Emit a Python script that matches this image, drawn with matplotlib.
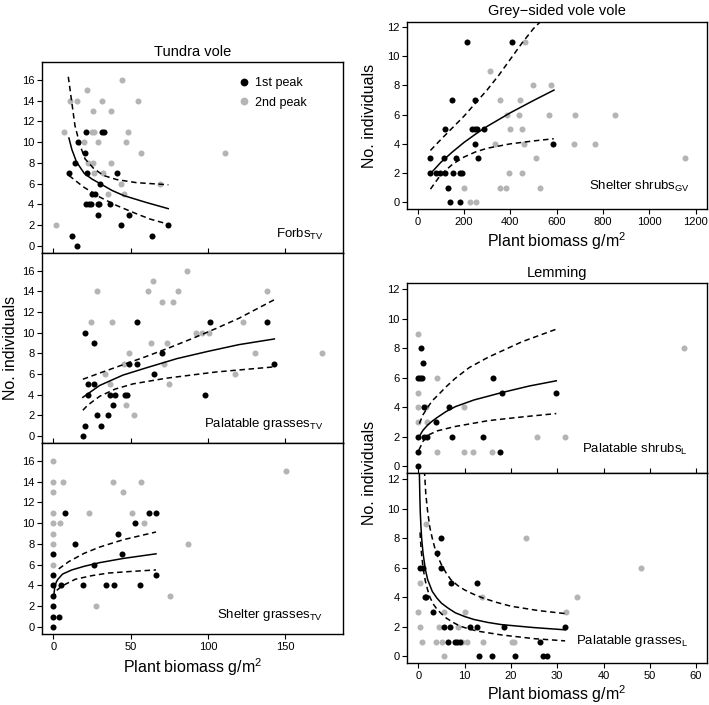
import matplotlib
matplotlib.use('Agg')
import matplotlib.pyplot as plt
from matplotlib.lines import Line2D

plt.rcParams['font.family'] = ['Liberation Sans', 'DejaVu Sans']
plt.rcParams['mathtext.fontset'] = 'custom'
plt.rcParams['mathtext.rm'] = 'Liberation Sans'
plt.rcParams['mathtext.it'] = 'Liberation Sans:italic'
plt.rcParams['mathtext.bf'] = 'Liberation Sans:bold'

# ---------------- Tundra vole: Forbs ----------------
forbs_x1 = [10.2, 11.9, 14.0, 15.5, 16.2, 20.5, 21.1, 21.8, 21.1, 23.3, 24.2, 24.8, 27.0, 28.7, 29.8, 28.7, 30.4, 31.3, 32.8, 36.6, 41.2, 43.8, 48.9, 63.8, 74.4]
forbs_y1 = [7, 1, 8, 0, 10, 9, 11, 7, 4, 4, 4, 5, 5, 4, 4, 3, 6, 11, 11, 4, 7, 2, 3, 1, 2]
forbs_x2 = [44.2, 22.0, 10.8, 15.5, 31.3, 54.9, 25.4, 37.3, 6.9, 24.8, 26.0, 48.3, 20.1, 29.1, 47.2, 56.5, 110.7, 22.2, 25.4, 37.5, 26.5, 31.9, 43.8, 69.3, 35.5, 45.6, 1.5]
forbs_y2 = [16, 15, 14, 14, 14, 14, 13, 13, 11, 11, 11, 11, 10, 10, 10, 9, 9, 8, 8, 8, 7, 7, 6, 6, 5, 5, 2]
forbs_fit_x = [10.1, 12, 15, 20, 25, 30.4, 38, 45.7, 60, 74.3]
forbs_fit_y = [10.4, 9.3, 8.1, 7.0, 6.45, 6.0, 5.35, 4.85, 4.2, 3.6]
forbs_hi_x = [9.7, 11.9, 14.0, 17.3, 20.5, 25.9, 32.3, 41.0, 53.9, 74.4]
forbs_hi_y = [16.3, 13.9, 11.6, 9.7, 8.4, 7.5, 6.8, 6.4, 6.1, 5.9]
forbs_lo_x = [10.1, 19.4, 30.2, 41.0, 53.9, 62.5, 74.4]
forbs_lo_y = [6.8, 5.7, 4.7, 3.9, 3.1, 2.6, 2.1]

# ---------------- Tundra vole: Palatable grasses ----------------
pgtv_x1 = [19.5, 20.6, 20.8, 22.3, 22.3, 26.0, 26.2, 28.3, 31.1, 35.2, 36.9, 39.9, 38.6, 46.6, 47.4, 48.7, 53.9, 54.1, 64.8, 70.6, 97.9, 101.5, 138.2, 142.5]
pgtv_y1 = [0, 1, 10, 4, 5, 5, 9, 2, 1, 2, 4, 4, 3, 4, 4, 7, 7, 11, 6, 8, 4, 11, 11, 7]
pgtv_x2 = [24.2, 28.5, 33.3, 36.9, 38.2, 45.9, 47.2, 48.9, 52.1, 61.4, 63.1, 64.2, 70.6, 71.7, 73.4, 74.7, 77.3, 80.9, 86.5, 92.1, 96.1, 100.6, 117.2, 122.5, 130.3, 138.2, 173.8]
pgtv_y2 = [11, 14, 6, 5, 11, 7, 3, 8, 2, 14, 9, 15, 13, 7, 9, 5, 13, 14, 16, 10, 10, 10, 6, 11, 8, 14, 8]
pgtv_fit_x = [19.1, 30, 45, 60, 80, 100, 120, 142.9]
pgtv_fit_y = [3.75, 4.9, 5.9, 6.6, 7.5, 8.2, 8.85, 9.4]
pgtv_hi_x = [19.1, 30, 45, 60, 75, 90, 105, 120, 142.9]
pgtv_hi_y = [5.5, 6.1, 6.9, 7.7, 8.55, 9.45, 10.4, 11.4, 13.2]
pgtv_lo_x = [19.1, 22, 25, 30, 40, 51.5, 73, 105, 142.9]
pgtv_lo_y = [2.5, 2.95, 3.3, 3.85, 4.55, 5.05, 5.6, 6.2, 6.7]

# ---------------- Tundra vole: Shelter grasses ----------------
sgtv_x1 = [0, 0, 3.5, 0, 0, 0, 5.2, 0, 0, 7.6, 14.2, 19.0, 26.5, 34.3, 39.5, 41.8, 44.4, 53.0, 55.8, 62.0, 66.4, 66.4]
sgtv_y1 = [0, 1, 1, 2, 3, 4, 4, 5, 7, 11, 8, 4, 6, 4, 4, 9, 7, 10, 4, 11, 11, 5]
sgtv_x2 = [0, 0, 6.2, 0, 0, 0, 4.1, 0, 0, 0, 27.7, 23.2, 38.6, 45.3, 50.6, 56.7, 58.8, 75.3, 87.3, 150.4]
sgtv_y2 = [16, 14, 14, 13, 11, 10, 10, 9, 8, 6, 2, 11, 14, 13, 11, 14, 10, 3, 8, 15]
sgtv_fit_x = [0.3, 1, 2, 3, 6, 12, 20, 30, 45, 66.4]
sgtv_fit_y = [3.0, 3.9, 4.35, 4.6, 5.1, 5.5, 5.85, 6.2, 6.6, 7.05]
sgtv_hi_x = [3.5, 10, 20, 30, 45, 66.4]
sgtv_hi_y = [5.6, 6.3, 7.1, 7.7, 8.4, 9.15]
sgtv_lo_x = [0.3, 2, 5.6, 14.2, 25, 35.7, 50, 66.4]
sgtv_lo_y = [2.7, 3.5, 3.95, 4.6, 4.95, 5.2, 5.35, 5.5]

# ---------------- Grey-sided vole: Shelter shrubs ----------------
gs_x1 = [54.5, 54.5, 80.4, 97.6, 116.3, 114.9, 116.3, 132.1, 141, 184, 149.6, 151, 165.3, 181.2, 192.7, 212.8, 234.3, 245.8, 255.9, 245.8, 245.8, 260.2, 284.6, 405.6, 585.4]
gs_y1 = [3, 2, 2, 2, 2, 3, 5, 1, 0, 0, 7, 2, 3, 2, 2, 11, 5, 5, 5, 4, 7, 3, 5, 11, 4]
gs_x2 = [464.4, 310, 497.6, 575.3, 356.6, 443, 385.4, 435.7, 568, 679, 850, 396.9, 451.5, 333.6, 458, 673, 767, 510.5, 1152.5, 394, 451.5, 201, 353.9, 381, 529.2, 227, 251]
gs_y2 = [11, 9, 8, 8, 7, 7, 6, 6, 6, 6, 6, 5, 5, 4, 4, 4, 4, 3, 3, 2, 2, 1, 1, 1, 1, 0, 0]
gs_fit_x = [63, 100, 150, 200, 250, 300, 400, 500, 588]
gs_fit_y = [2.1, 2.74, 3.45, 4.1, 4.67, 5.2, 6.13, 6.97, 7.68]
gs_hi_x = [55, 100, 150, 200, 250, 300, 350, 400, 450, 500, 545]
gs_hi_y = [3.55, 4.3, 5.1, 5.9, 6.8, 7.7, 8.7, 9.8, 10.9, 11.9, 12.6]
gs_lo_x = [55, 100, 150, 200, 250, 300, 400, 500, 587]
gs_lo_y = [0.9, 1.9, 2.6, 3.1, 3.45, 3.7, 4.0, 4.2, 4.35]

# ---------------- Lemming: Palatable shrubs ----------------
ps_x1 = [0, 0, 0, 1.2, 1.9, 3.8, 7.3, 1.2, 6.6, 0, 0.4, 0.7, 1.1, 0.5, 14.0, 16.1, 18.1, 17.7, 29.8]
ps_y1 = [0, 1, 2, 2, 2, 3, 2, 4, 4, 6, 6, 6, 7, 8, 2, 6, 5, 1, 5]
ps_x2 = [0, 0, 0, 1.7, 0, 1.9, 4.0, 4.1, 9.9, 9.9, 11.9, 15.9, 25.7, 31.7, 57.3]
ps_y2 = [9, 5, 4, 4, 3, 3, 6, 1, 4, 1, 1, 1, 2, 2, 8]
ps_fit_x = [0.2, 0.6, 1, 2, 3, 4, 6, 8, 12, 18, 24, 29.8]
ps_fit_y = [2.0, 2.25, 2.45, 2.8, 3.07, 3.3, 3.72, 4.05, 4.5, 5.0, 5.45, 5.8]
ps_hi_x = [0.2, 1, 2, 3, 4.3, 6, 7.9, 11, 15.1, 22.4, 29.8]
ps_hi_y = [2.9, 3.5, 4.0, 4.45, 4.85, 5.4, 5.95, 6.7, 7.4, 8.45, 9.3]
ps_lo_x = [0.1, 1, 2, 4, 7.9, 15.1, 22.4, 29.8]
ps_lo_y = [1.1, 1.7, 2.1, 2.4, 2.7, 3.1, 3.35, 3.58]

# ---------------- Lemming: Palatable grasses ----------------
pg_x1 = [0.3, 0.9, 1.4, 1.7, 3.2, 4.9, 4.0, 4.9, 7.1, 5.5, 6.9, 6.3, 7.9, 8.4, 8.9, 11.2, 12.6, 12.6, 13.0, 15.9, 18.4, 20.9, 26.2, 27.0, 27.8, 31.7]
pg_y1 = [6, 6, 4, 4, 3, 8, 7, 6, 5, 2, 2, 1, 1, 1, 1, 2, 2, 5, 0, 0, 2, 0, 1, 0, 0, 2]
pg_x2 = [1.7, 0.4, 0, 0.3, 0.7, 3.8, 5.0, 4.5, 5.6, 5.6, 8.5, 9.5, 10.6, 10.1, 13.7, 14.0, 20.3, 20.7, 23.3, 31.8, 34.3, 48.2]
pg_y2 = [9, 5, 3, 2, 1, 1, 1, 2, 3, 0, 2, 1, 1, 3, 4, 1, 1, 1, 8, 3, 4, 6]
pg_fit_x = [0.2, 0.3, 0.4, 0.55, 0.7, 1.0, 1.5, 2, 3, 4, 5, 6.5, 8, 10, 12, 15, 18, 25, 31.7]
pg_fit_y = [12.6, 11.0, 9.8, 8.8, 8.0, 7.0, 5.9, 5.2, 4.4, 3.95, 3.6, 3.25, 2.95, 2.7, 2.5, 2.3, 2.15, 1.95, 1.8]
pg_hi_x = [1.3, 1.6, 2, 2.5, 3, 3.5, 4.2, 5, 6, 7, 8.5, 10, 12, 14, 17, 20, 26, 31.7]
pg_hi_y = [12.6, 11, 9.8, 8.7, 8.0, 7.4, 6.75, 6.2, 5.65, 5.2, 4.8, 4.5, 4.2, 3.95, 3.65, 3.4, 3.1, 2.9]
pg_lo_x = [0.35, 0.6, 1, 1.5, 2, 2.5, 3.2, 4, 5, 6, 7.5, 9, 11, 13, 18, 25, 31.7]
pg_lo_y = [8.4, 7.2, 6.0, 5.1, 4.5, 4.0, 3.55, 3.2, 2.88, 2.6, 2.3, 2.05, 1.85, 1.7, 1.45, 1.2, 1.05]

# ---------------- labels ----------------
legend_labels = ['1st peak', '2nd peak']
left_xticks = [0, 50, 100, 150]
left_yticks = [0, 2, 4, 6, 8, 10, 12, 14, 16]
gs_xticks = [0, 200, 400, 600, 800, 1000, 1200]
lem_xticks = [0, 10, 20, 30, 40, 50, 60]
right_yticks = [0, 2, 4, 6, 8, 10, 12]

BLACK = '#000000'
GREY = '#b4b4b4'
MS = 19
DASH = (0, (3.6, 2.4))

W, H = 709, 705
fig = plt.figure(figsize=(W / 100, H / 100), dpi=100)


def px_axes(x0, y0, x1, y1):
    return fig.add_axes([x0 / W, 1 - y1 / H, (x1 - x0) / W, (y1 - y0) / H])


def panel(ax, x1, y1, x2, y2, fx, fy, hx, hy, lx, ly):
    ax.scatter(x2, y2, s=MS, color=GREY, linewidths=0, zorder=2)
    ax.scatter(x1, y1, s=MS, color=BLACK, linewidths=0, zorder=3)
    ax.plot(fx, fy, color='black', lw=1.1, zorder=4)
    ax.plot(hx, hy, color='black', lw=1.1, ls=DASH, zorder=4)
    ax.plot(lx, ly, color='black', lw=1.1, ls=DASH, zorder=4)
    for s in ax.spines.values():
        s.set_linewidth(1.0)
    ax.tick_params(labelsize=8, length=3.5, width=0.8, pad=2)


def panel_label(ax, main, sub, x, y):
    ax.text(x, y, main + r'$_{\mathregular{' + sub + '}}$', transform=ax.transAxes,
            ha='right', va='baseline', fontsize=9.5)


# Left column
ax1 = px_axes(42, 62, 343, 253)
ax2 = px_axes(42, 253, 343, 443)
ax3 = px_axes(42, 443, 343, 634)
panel(ax1, forbs_x1, forbs_y1, forbs_x2, forbs_y2, forbs_fit_x, forbs_fit_y,
      forbs_hi_x, forbs_hi_y, forbs_lo_x, forbs_lo_y)
panel(ax2, pgtv_x1, pgtv_y1, pgtv_x2, pgtv_y2, pgtv_fit_x, pgtv_fit_y,
      pgtv_hi_x, pgtv_hi_y, pgtv_lo_x, pgtv_lo_y)
panel(ax3, sgtv_x1, sgtv_y1, sgtv_x2, sgtv_y2, sgtv_fit_x, sgtv_fit_y,
      sgtv_hi_x, sgtv_hi_y, sgtv_lo_x, sgtv_lo_y)
for ax in (ax1, ax2, ax3):
    ax.set_xlim(-7.3, 187.3)
    ax.set_ylim(-0.67, 17.72)
    ax.set_xticks(left_xticks)
    ax.set_yticks(left_yticks)
for ax in (ax1, ax2):
    ax.tick_params(axis='x', direction='in', labelbottom=False)

ax1.set_title('Tundra vole', fontsize=10.5, pad=4)
panel_label(ax1, 'Forbs', 'TV', 0.937, 0.077)
panel_label(ax2, 'Palatable grasses', 'TV', 0.934, 0.083)
panel_label(ax3, 'Shelter grasses', 'TV', 0.934, 0.082)
ax2.text(-0.105, 0.5, 'No. individuals', transform=ax2.transAxes, rotation=90,
         ha='center', va='center', fontsize=11.5)
ax3.text(0.5, -0.206, r'Plant biomass g/m$^{\mathregular{2}}$', transform=ax3.transAxes,
         ha='center', va='baseline', fontsize=11.5)

handles = [Line2D([], [], marker='o', ls='none', color=BLACK, markersize=5.6, markeredgewidth=0),
           Line2D([], [], marker='o', ls='none', color=GREY, markersize=5.6, markeredgewidth=0)]
ax1.legend(handles, legend_labels, loc='upper left', bbox_to_anchor=(0.65, 0.921),
           frameon=False, fontsize=9, borderpad=0, borderaxespad=0, handlelength=1.0,
           handletextpad=0.4, labelspacing=0.6)

# Right column
ax4 = px_axes(407.3, 22, 706.7, 209)
ax5 = px_axes(407.3, 283, 706.7, 473)
ax6 = px_axes(407.3, 473, 706.7, 663)
panel(ax4, gs_x1, gs_y1, gs_x2, gs_y2, gs_fit_x, gs_fit_y, gs_hi_x, gs_hi_y, gs_lo_x, gs_lo_y)
panel(ax5, ps_x1, ps_y1, ps_x2, ps_y2, ps_fit_x, ps_fit_y, ps_hi_x, ps_hi_y, ps_lo_x, ps_lo_y)
panel(ax6, pg_x1, pg_y1, pg_x2, pg_y2, pg_fit_x, pg_fit_y, pg_hi_x, pg_hi_y, pg_lo_x, pg_lo_y)

ax4.set_xlim(-45, 1247)
ax4.set_ylim(-0.46, 12.34)
ax4.set_xticks(gs_xticks)
ax4.set_yticks(right_yticks)
for ax in (ax5, ax6):
    ax.set_xlim(-2.4, 62.3)
    ax.set_ylim(-0.45, 12.43)
    ax.set_xticks(lem_xticks)
    ax.set_yticks(right_yticks)
ax5.tick_params(axis='x', direction='in', labelbottom=False)

ax4.set_title('Grey\u2212sided vole vole', fontsize=10.5, pad=5)
ax5.set_title('Lemming', fontsize=10.5, pad=4.5)
panel_label(ax4, 'Shelter shrubs', 'GV', 0.944, 0.10)
panel_label(ax5, 'Palatable shrubs', 'L', 0.937, 0.104)
panel_label(ax6, 'Palatable grasses', 'L', 0.94, 0.10)
ax4.text(-0.125, 0.5, 'No. individuals', transform=ax4.transAxes, rotation=90,
         ha='center', va='center', fontsize=11.5)
ax5.text(-0.125, 0.0, 'No. individuals', transform=ax5.transAxes, rotation=90,
         ha='center', va='center', fontsize=11.5)
ax4.text(0.5, -0.205, r'Plant biomass g/m$^{\mathregular{2}}$', transform=ax4.transAxes,
         ha='center', va='baseline', fontsize=11.5)
ax6.text(0.5, -0.195, r'Plant biomass g/m$^{\mathregular{2}}$', transform=ax6.transAxes,
         ha='center', va='baseline', fontsize=11.5)

fig.savefig('out.png', dpi=100)
